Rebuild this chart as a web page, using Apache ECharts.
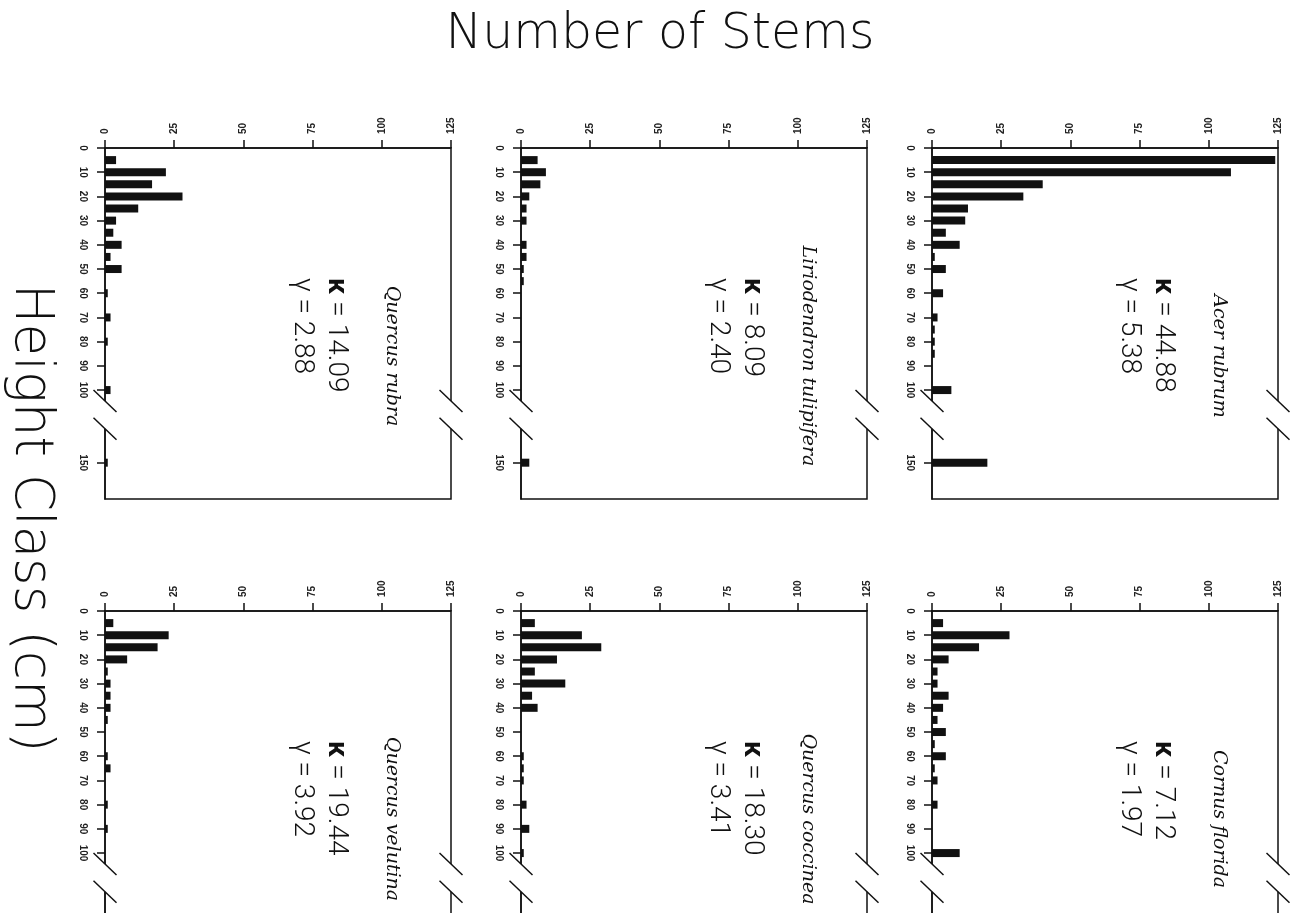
<!DOCTYPE html>
<html><head><meta charset="utf-8">
<script src="https://cdn.jsdelivr.net/npm/echarts@6/dist/echarts.min.js"></script>
<style>html,body{margin:0;padding:0;background:#fff}#c{width:1298px;height:913px}</style>
</head><body><div id="c"></div>
<script>
// ---- data ----
const heightCategories = ['0','5','10','15','20','25','30','35','40','45','50','55','60','65','70','75','80','85','90','95','100',
  'gap1','gap2','gap3','gap4','gap5','150','end1','end2','end3'];
const tickLabels = ['0','10','20','30','40','50','60','70','80','90','100','150'];
const heightClasses = [5,10,15,20,25,30,35,40,45,50,55,60,65,70,75,80,85,90,95,100,150];

const quercusRubra    = [4,22,17,28,12,4,3,6,2,6,0,1,0,2,0,1,0,0,0,2,1];
const liriodendron    = [6,9,7,3,2,2,0,2,2,1,1,0,0,0,0,0,0,0,0,0,3];
const acerRubrum      = [124,108,40,33,13,12,5,10,1,5,0,4,0,2,1,1,1,0,0,7,20];
const quercusVelutina = [3,23,19,8,1,2,2,2,1,0,0,1,2,0,0,1,0,1,0,0,null];
const quercusCoccinea = [5,22,29,13,5,16,4,6,0,0,0,1,1,1,0,2,0,3,0,1,null];
const cornusFlorida   = [4,28,17,6,2,2,6,4,2,5,1,5,1,2,0,2,0,0,0,10,null];

const speciesNames = ['Quercus rubra','Liriodendron tulipifera','Acer rubrum','Quercus velutina','Quercus coccinea','Cornus florida'];
const kappaValues = ['14.09','8.09','44.88','19.44','18.30','7.12'];
const gammaValues = ['2.88','2.40','5.38','3.92','3.41','1.97'];
const valueTicks = {min:0, max:125, interval:25};

// ---- layout ----
const counts = [quercusRubra, liriodendron, acerRubrum, quercusVelutina, quercusCoccinea, cornusFlorida];
const gridLefts = [105, 521, 932];
const gridTops = [148, 611];
const gridW = 346, gridH = 351;
const INK = '#111';

function buildData(arr){
  const out = heightCategories.map(()=>'-');
  heightClasses.forEach((c,k)=>{
    if (arr[k] !== null && arr[k] !== undefined) out[heightCategories.indexOf(String(c))] = arr[k];
  });
  return out;
}
const showTick = (idx, val) => tickLabels.indexOf(val) >= 0;

const chart = echarts.init(document.getElementById('c'), null, {renderer:'canvas'});
const option = {
  animation:false,
  backgroundColor:'#fff',
  grid: counts.map((c,i)=>({left:gridLefts[i%3], top:gridTops[Math.floor(i/3)], width:gridW, height:gridH,
    show:true, borderColor:INK, borderWidth:1.5, backgroundColor:'transparent', containLabel:false, outerBoundsMode:'none'})),
  xAxis: counts.map((c,i)=>({type:'value', gridIndex:i, position:'top', min:valueTicks.min, max:valueTicks.max, interval:valueTicks.interval,
    axisLine:{show:true, onZero:false, lineStyle:{color:INK, width:1.5}},
    axisTick:{show:true, length:8, lineStyle:{color:INK, width:1.5}},
    axisLabel:{rotate:-90, margin:14, fontSize:10, fontWeight:'bold', fontFamily:'Liberation Sans', color:'#222', showMinLabel:true, showMaxLabel:true},
    splitLine:{show:false}})),
  yAxis: counts.map((c,i)=>({type:'category', gridIndex:i, data:heightCategories, inverse:true, boundaryGap:false,
    axisLine:{show:true, onZero:false, lineStyle:{color:INK, width:1.5}},
    axisTick:{show:true, length:8, interval:showTick, lineStyle:{color:INK, width:1.5}},
    axisLabel:{interval:showTick, rotate:-90, margin:17, fontSize:10, fontWeight:'bold', fontFamily:'Liberation Sans', color:'#222'},
    splitLine:{show:false}})),
  series: counts.map((c,i)=>({type:'bar', xAxisIndex:i, yAxisIndex:i, data:buildData(c), barWidth:8,
    itemStyle:{color:INK}, silent:true}))
};
chart.setOption(option);

const g = [];
g.push({type:'text', x:660, y:35, z:100, style:{text:'Number of Stems', fontSize:49, fontWeight:200, fontFamily:'DejaVu Sans', fill:INK, align:'center', verticalAlign:'middle'}});
g.push({type:'text', x:30, y:518, rotation:-Math.PI/2, z:100, style:{text:'Height Class (cm)', fontSize:53, fontWeight:200, fontFamily:'DejaVu Sans', fill:INK, align:'center', verticalAlign:'middle'}});
const nCat = heightCategories.length;
const i100 = heightCategories.indexOf('100');
counts.forEach((c,i)=>{
  const p0 = chart.convertToPixel({xAxisIndex:i, yAxisIndex:i}, [0, 0]);
  const p1 = chart.convertToPixel({xAxisIndex:i, yAxisIndex:i}, [125, nCat-1]);
  const x0=p0[0], y0=p0[1], x1=p1[0], y1=p1[1];
  const step = (y1-y0)/(nCat-1);
  const ya = y0 + (i100+0.9)*step, yb = y0 + (i100+3.2)*step;
  [x0, x1].forEach(x=>{
    g.push({type:'rect', z:100, shape:{x:x-3, y:ya, width:6, height:yb-ya}, style:{fill:'#fff'}});
    [ya, yb].forEach(yy=>g.push({type:'line', z:101, shape:{x1:x-11.5, y1:yy-11, x2:x+11.5, y2:yy+11}, style:{stroke:INK, lineWidth:1.5}}));
  });
  const w = x1-x0;
  g.push({type:'text', z:102, x:x0+w*0.83, y:y0+208, rotation:-Math.PI/2,
    style:{text:speciesNames[i], fontSize:19, fontStyle:'italic', fontFamily:'DejaVu Serif', fill:INK, align:'center', verticalAlign:'middle'}});
  g.push({type:'text', z:102, x:x0+w*0.668, y:y0+130, rotation:-Math.PI/2,
    style:{text:'{k|κ} = '+kappaValues[i], fontSize:28, fontWeight:300, fontFamily:'Roboto', fill:INK, align:'left', verticalAlign:'middle',
      rich:{k:{fontSize:28, fontWeight:'bold', fontFamily:'Roboto', fill:INK}}}});
  g.push({type:'text', z:102, x:x0+w*0.569, y:y0+130, rotation:-Math.PI/2,
    style:{text:'γ = '+gammaValues[i], fontSize:28, fontWeight:300, fontFamily:'Roboto', fill:INK, align:'left', verticalAlign:'middle'}});
});
chart.setOption({graphic:{elements:g}});
</script>
</body></html>
